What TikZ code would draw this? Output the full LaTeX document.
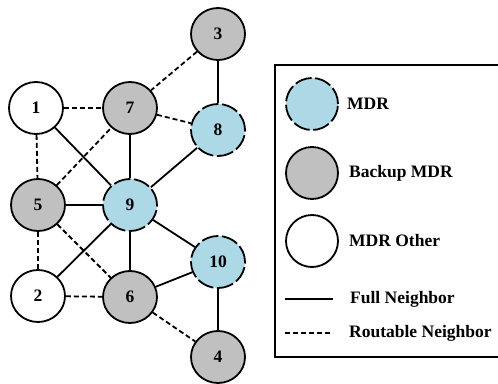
\documentclass[tikz,border=0pt]{standalone}
\usepackage{fontspec}
\setmainfont{Liberation Serif}
\usetikzlibrary{shapes.geometric,backgrounds}
\definecolor{mdrblue}{HTML}{ADD8E6}
\definecolor{bkgray}{HTML}{C0C0C0}
\tikzset{
  base/.style={ellipse, minimum width=54pt, minimum height=52pt, inner sep=0pt,
    font=\fontsize{17.5}{20}\selectfont\bfseries, line width=1.8pt},
  mdr/.style={base, fill=mdrblue, draw=black, dash pattern=on 17pt off 3.6pt},
  backup/.style={base, fill=bkgray, draw=black},
  other/.style={base, fill=white, draw=black},
  full/.style={line width=1.8pt},
  routable/.style={line width=1.8pt, dash pattern=on 5pt off 3pt},
  legtext/.style={anchor=west, font=\fontsize{17.5}{20}\selectfont\bfseries, inner sep=0pt}
}
\begin{document}
\begin{tikzpicture}[x=1pt,y=-1pt]
\useasboundingbox (0,0) rectangle (498,383);
\clip (0,0) rectangle (498,383);
\node[other]  (n1)  at (36,108)  {1};
\node[backup] (n7)  at (130,108) {7};
\node[backup] (n3)  at (218,34)  {3};
\node[mdr]    (n8)  at (218,130) {8};
\node[backup] (n5)  at (38,205)  {5};
\node[mdr]    (n9)  at (130,205) {9};
\node[mdr]    (n10) at (218,262) {10};
\node[other]  (n2)  at (38,296)  {2};
\node[backup] (n6)  at (130,297) {6};
\node[backup] (n4)  at (218,357) {4};
\begin{scope}[on background layer]
\draw[full] (n1) -- (n9);
\draw[full] (n7) -- (n9);
\draw[full] (n8) -- (n9);
\draw[full] (n3) -- (n8);
\draw[full] (n5) -- (n9);
\draw[full] (n9) -- (n2);
\draw[full] (n9) -- (n6);
\draw[full] (n9) -- (n10);
\draw[full] (n6) -- (n10);
\draw[full] (n10) -- (n4);
\draw[routable] (n1) -- (n7);
\draw[routable] (n1) -- (n5);
\draw[routable] (n5) -- (n7);
\draw[routable] (n3) -- (n7);
\draw[routable] (n7) -- (n8);
\draw[routable] (n5) -- (n2);
\draw[routable] (n5) -- (n6);
\draw[routable] (n2) -- (n6);
\draw[routable] (n6) -- (n4);
\end{scope}
% legend
\draw[line width=1.8pt] (275,65) rectangle (510,357);
\node[mdr, minimum width=52pt] (lmdr) at (312,104) {};
\node[backup, minimum width=52pt] (lbk) at (312,173) {};
\node[other, minimum width=52pt] (lot) at (312,241) {};
\node[legtext] (tmdr) at (347,104) {MDR};
\node[legtext] (tbk) at (349,173) {Backup MDR};
\node[legtext] (tot) at (349,241) {MDR Other};
\coordinate (fa) at (285,299);
\coordinate (fb) at (333,299);
\coordinate (ra) at (285,333);
\coordinate (rb) at (333,333);
\draw[full] (fa) -- (fb);
\draw[routable] (ra) -- (rb);
\node[legtext] (tf) at (350,299) {Full Neighbor};
\node[legtext] (tr) at (349,333) {Routable Neighbor};
\end{tikzpicture}
\end{document}
